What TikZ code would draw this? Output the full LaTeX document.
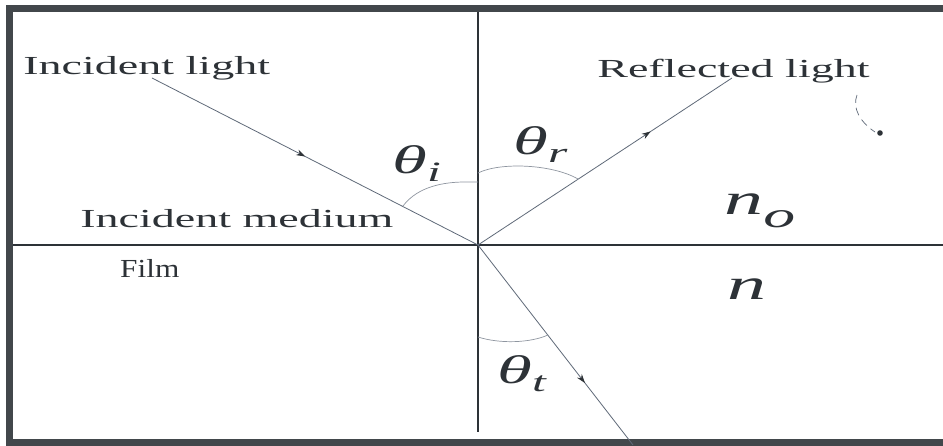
\documentclass[tikz,border=0pt]{standalone}
\usepackage{fontspec}
\setmainfont{Liberation Serif}
\usetikzlibrary{decorations.markings,arrows.meta}
\definecolor{ink}{RGB}{45,50,55}
\definecolor{ray}{RGB}{95,105,120}
\begin{document}
\begin{tikzpicture}[x=1pt,y=-1pt,
  lbl/.style={inner sep=0pt, anchor=base west, text=ink, font=\fontsize{26}{30}\selectfont, xscale=1.77},
  sym/.style={inner sep=0pt, anchor=base west, text=ink, font=\fontsize{40}{44}\selectfont\itshape, xscale=1.77},
  axis/.style={draw=ink, line width=1.1pt},
  rayline/.style={draw=ray, line width=0.8pt},
  arcline/.style={draw=ray!70, line width=0.7pt},
  mid arrow/.style={postaction={decorate}, decoration={markings, mark=at position #1 with {\arrow[ink]{Stealth[length=9pt,width=6pt]}}}},
  framebox/.style={draw=ink!90, line width=7.5pt}
]
\useasboundingbox (0,0) rectangle (943,446);
\clip (0,0) rectangle (943,446);
\fill[white] (0,0) rectangle (943,446);
% frame
\draw[framebox] (9.5,8.5) rectangle (960,442.5);
% coordinates
\coordinate (top) at (478,12);
\coordinate (bot) at (478,432);
\coordinate (left) at (13,245);
\coordinate (right) at (943,245);
\coordinate (O) at (478,245);
\coordinate (inS) at (152,78);
\coordinate (refE) at (732,78);
\coordinate (trE) at (633,445);
% axes
\draw[axis] (top) -- (bot);
\draw[axis] (left) -- (right);
% rays
\draw[rayline, mid arrow=0.47] (inS) -- (O);
\draw[rayline, mid arrow=0.68] (O) -- (refE);
\draw[rayline, mid arrow=0.69] (O) -- (trE);
% angle arcs
\draw[arcline] (403,206) .. controls (418,186) and (445,182) .. (465,182) -- (478,182);
\draw[arcline] (478,173) .. controls (500,162) and (552,164) .. (578,179);
\draw[arcline] (478,337) .. controls (500,344) and (530,343) .. (548,335);
% labels
\node[lbl] (incl) at (23,75) {Incident light};
\node[lbl] (refl) at (597,78) {Reflected light};
\node[lbl] (incm) at (80,228) {Incident medium};
\node[lbl, xscale=0.68] (film) at (120,278) {Film};
\node[sym] (thi) at (392,174) {θ\raisebox{-8pt}{\fontsize{28}{30}\selectfont i}};
\node[sym] (thr) at (513,155) {θ\raisebox{-8pt}{\fontsize{28}{30}\selectfont r}};
\node[sym] (tht) at (497,384) {θ\raisebox{-8pt}{\fontsize{28}{30}\selectfont t}};
\node[sym, font=\fontsize{44}{48}\selectfont\itshape] (no) at (724,215) {n\raisebox{-13pt}{\fontsize{36}{40}\selectfont o}};
\node[sym, font=\fontsize{44}{48}\selectfont\itshape] (nn) at (727,300) {n};
% scribble
\draw[ray, line width=0.7pt, dashed, dash pattern=on 8pt off 5pt] (857,95) .. controls (852,108) and (860,122) .. (875,132);
\fill[ink] (880,133) circle (2.8);
\end{tikzpicture}
\end{document}
